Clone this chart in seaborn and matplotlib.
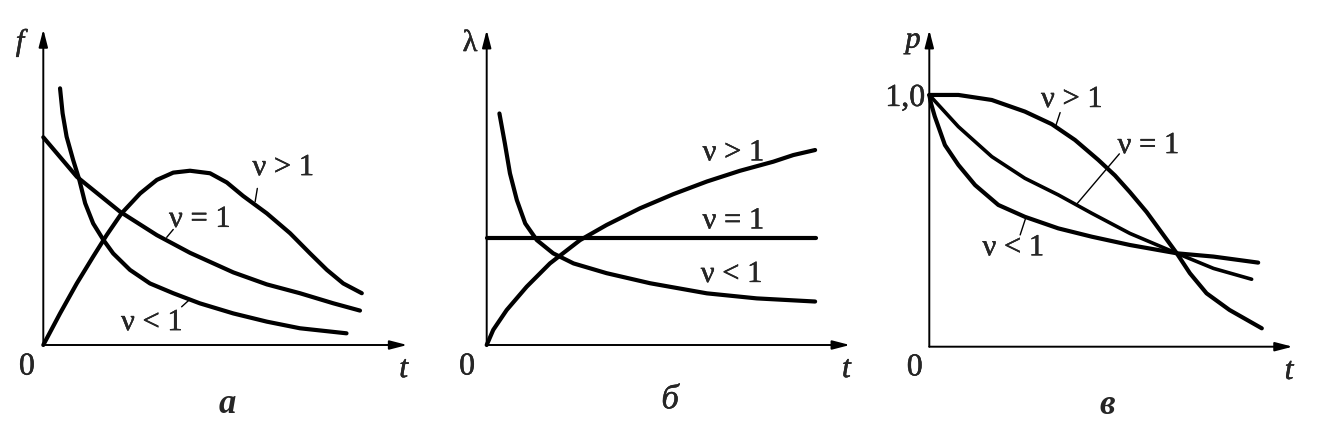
import numpy as np
import pandas as pd
import seaborn as sns
import matplotlib.pyplot as plt
import matplotlib.patheffects as pe

# panel а: density f(t)
t_a_lt = [0.46, 0.53, 0.64, 0.82, 0.99, 1.15, 1.37, 1.65, 1.92, 2.38, 2.93, 3.57, 4.30, 5.22, 6.14, 7.05, 8.33]
f_lt = [8.13, 7.34, 6.60, 5.86, 5.23, 4.49, 3.85, 3.33, 2.90, 2.38, 1.95, 1.64, 1.32, 1.00, 0.74, 0.53, 0.37]
t_a_eq = [0.0, 0.92, 2.11, 3.12, 4.03, 5.22, 6.14, 7.05, 7.97, 8.70]
f_eq = [6.58, 5.33, 4.22, 3.48, 2.92, 2.30, 1.92, 1.64, 1.32, 1.09]
t_a_gt = [0.0, 0.46, 0.92, 1.37, 1.74, 2.15, 2.66, 3.12, 3.57, 4.03, 4.58, 5.04, 5.49,
          6.14, 6.78, 7.33, 7.79, 8.24, 8.75]
f_gt = [0.0, 1.00, 1.95, 2.80, 3.48, 4.17, 4.80, 5.23, 5.46, 5.52, 5.44, 5.15, 4.72,
        4.17, 3.54, 2.90, 2.38, 1.95, 1.64]

# panel б: failure rate lambda(t)
t_b_lt = [0.35, 0.50, 0.64, 0.83, 1.06, 1.38, 1.83, 2.39, 3.30, 4.50, 6.06, 7.43, 9.04]
lam_lt = [7.35, 6.40, 5.45, 4.60, 3.86, 3.33, 2.91, 2.59, 2.28, 1.96, 1.64, 1.48, 1.38]
t_b_eq = [0.0, 9.06]
lam_eq = [3.39, 3.39]
t_b_gt = [0.0, 0.18, 0.55, 1.10, 1.74, 2.57, 3.30, 4.22, 5.14, 6.06, 6.97, 7.89, 8.44, 9.04]
lam_gt = [0.0, 0.48, 1.11, 1.85, 2.59, 3.33, 3.81, 4.34, 4.79, 5.19, 5.53, 5.82, 6.03, 6.19]

# panel в: reliability p(t)
t_c_gt = [0.0, 0.80, 1.72, 2.63, 3.37, 4.01, 4.65, 5.11, 5.52, 5.98, 6.81, 7.17, 7.63, 8.26, 9.15]
p_gt = [1.0, 1.0, 0.980, 0.934, 0.884, 0.821, 0.742, 0.680, 0.614, 0.535, 0.371, 0.292, 0.212, 0.146, 0.073]
t_c_eq = [0.0, 0.80, 1.72, 2.63, 3.55, 4.47, 5.52, 6.81, 7.82, 8.87]
p_eq = [1.0, 0.874, 0.755, 0.669, 0.603, 0.530, 0.450, 0.371, 0.311, 0.268]
t_c_lt = [0.0, 0.05, 0.15, 0.43, 0.80, 1.26, 1.90, 2.63, 3.55, 4.47, 5.52, 6.81, 7.82, 9.05]
p_lt = [1.0, 0.965, 0.915, 0.801, 0.722, 0.642, 0.563, 0.516, 0.470, 0.437, 0.404, 0.371, 0.358, 0.334]

labels = ["ν > 1", "ν = 1", "ν < 1"]

sns.set_theme(style="white")
plt.rcParams['font.family'] = ['Liberation Serif', 'DejaVu Serif']

W, H = 1322, 423
fig = plt.figure(figsize=(W / 100, H / 100), dpi=100)
FS = 22
ink = [pe.withStroke(linewidth=0.3, foreground="black")]


def make_ax(x0, y0, xtip, ytip, ymax):
    ax = fig.add_axes([x0 / W, (H - y0) / H, (xtip - x0) / W, (y0 - ytip) / H])
    ax.set_xlim(0, 10)
    ax.set_ylim(0, ymax)
    for s in ax.spines.values():
        s.set_visible(False)
    ax.set_xticks([])
    ax.set_yticks([])
    arrow = dict(arrowstyle="-|>,head_length=0.7,head_width=0.18", color="black",
                 lw=1.4, shrinkA=0, shrinkB=0, mutation_scale=15)
    ax.annotate("", xy=(1, 0), xytext=(0, 0), xycoords="axes fraction", arrowprops=arrow)
    ax.annotate("", xy=(0, 1), xytext=(0, 0), xycoords="axes fraction", arrowprops=arrow)
    return ax


def curve(ax, t, y, lw=3.0):
    df = pd.DataFrame({"t": t, "y": y})
    sns.lineplot(data=df, x="t", y="y", ax=ax, color="black", lw=lw,
                 estimator=None, sort=False, solid_capstyle="round",
                 solid_joinstyle="round", clip_on=False)
    ax.set_xlabel("")
    ax.set_ylabel("")


def label(ax, x, y, s):
    ax.text(x, y, s, fontsize=FS, ha="center", va="center", path_effects=ink)


def axis_text(ax, ylab, ylab_xy, zero_xy, tag, tag_xy, tag_style, ylab_style="italic"):
    ax.text(*ylab_xy, ylab, transform=ax.transAxes, fontsize=FS, style=ylab_style,
            ha="center", va="center", path_effects=ink)
    ax.text(*zero_xy, "0", transform=ax.transAxes, fontsize=FS + 1, ha="center", va="center",
            path_effects=ink)
    ax.text(0.99, -0.078, "t", transform=ax.transAxes, fontsize=FS + 1, style="italic",
            ha="center", va="center", path_effects=ink)
    ax.text(*tag_xy, tag, transform=ax.transAxes, fontsize=25, ha="center", va="center",
            **tag_style)


def leader(ax, p0, p1):
    ax.plot([p0[0], p1[0]], [p0[1], p1[1]], color="black", lw=1.0)


# а
ax = make_ax(43.3, 345, 407.3, 29.3, 10)
curve(ax, t_a_lt, f_lt)
curve(ax, t_a_eq, f_eq)
curve(ax, t_a_gt, f_gt)
label(ax, 6.59, 5.62, labels[0])
label(ax, 4.30, 3.98, labels[1])
label(ax, 2.98, 0.71, labels[2])
leader(ax, (5.88, 4.96), (5.82, 4.54))
leader(ax, (3.57, 3.66), (3.39, 3.41))
leader(ax, (4.03, 1.45), (3.80, 1.21))
axis_text(ax, "f", (-0.064, 0.957), (-0.045, -0.07), "а", (0.505, -0.19),
          dict(style="italic", weight="bold"))

# б
ax = make_ax(486.7, 345, 850, 30, 10)
curve(ax, t_b_lt, lam_lt)
curve(ax, t_b_eq, lam_eq)
curve(ax, t_b_gt, lam_gt)
label(ax, 6.79, 6.10, labels[0])
label(ax, 6.79, 3.94, labels[1])
label(ax, 6.74, 2.24, labels[2])
axis_text(ax, "λ", (-0.046, 0.957), (-0.054, -0.07), "б", (0.505, -0.174),
          dict(style="italic", path_effects=ink), ylab_style="normal")

# в
ax = make_ax(929.3, 346.7, 1292.7, 30, 1.258)
curve(ax, t_c_gt, p_gt)
curve(ax, t_c_eq, p_eq, lw=2.6)
curve(ax, t_c_lt, p_lt)
label(ax, 3.92, 0.982, labels[0])
label(ax, 6.03, 0.799, labels[1])
label(ax, 2.31, 0.393, labels[2])
leader(ax, (3.60, 0.930), (3.48, 0.877))
leader(ax, (5.23, 0.766), (4.06, 0.567))
leader(ax, (2.65, 0.510), (2.50, 0.444))
ax.set_yticks([1.0])
ax.set_yticklabels(["1,0"], fontsize=FS + 1)
for tl in ax.get_yticklabels():
    tl.set_path_effects(ink)
ax.tick_params(axis="y", length=0, pad=3)
axis_text(ax, "p", (-0.045, 0.968), (-0.04, -0.067), "в", (0.49, -0.185),
          dict(style="italic", weight="bold"))

fig.savefig("out.png", dpi=100)
